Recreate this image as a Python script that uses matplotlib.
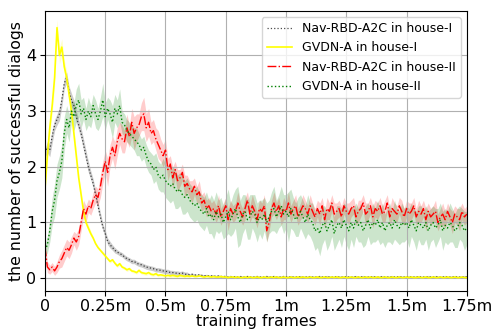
import numpy as np
import matplotlib
matplotlib.use("Agg")
import matplotlib.pyplot as plt

# training frames in millions, one sample every 0.01m
frames = np.linspace(0, 1.75, 176)

# GVDN-A in house-I (yellow)
gvdn_h1 = [1.6, 2.2, 2.7, 3.1, 3.6, 4.5, 4.0, 4.15, 3.8, 3.6,
           3.3, 3.0, 2.6, 2.2, 1.8, 1.5, 1.2, 1.0, 0.9, 0.8,
           0.72, 0.62, 0.55, 0.5, 0.45, 0.4, 0.35, 0.3, 0.33, 0.27,
           0.22, 0.26, 0.2, 0.18, 0.15, 0.17, 0.13, 0.12, 0.1, 0.14,
           0.1, 0.09, 0.08, 0.1, 0.07, 0.06, 0.08, 0.05, 0.06, 0.05,
           0.04, 0.05, 0.04, 0.05, 0.04, 0.03, 0.05, 0.04, 0.03, 0.04,
           0.03, 0.04, 0.03, 0.03, 0.04, 0.03, 0.02, 0.03, 0.03, 0.02,
           0.03, 0.02, 0.02, 0.03, 0.02, 0.02, 0.01, 0.02, 0.02, 0.01,
           0.02, 0.01, 0.01, 0.02, 0.01, 0.02, 0.01, 0.01, 0.02, 0.01,
           0.01, 0.02, 0.01, 0.01, 0.02, 0.01, 0.02, 0.01, 0.01, 0.02,
           0.01, 0.01, 0.02, 0.01, 0.01, 0.02, 0.01, 0.02, 0.01, 0.01,
           0.02, 0.01, 0.01, 0.02, 0.01, 0.01, 0.02, 0.01, 0.01, 0.02,
           0.01, 0.02, 0.01, 0.01, 0.02, 0.01, 0.01, 0.02, 0.01, 0.01,
           0.02, 0.01, 0.01, 0.02, 0.01, 0.02, 0.01, 0.01, 0.02, 0.01,
           0.01, 0.02, 0.01, 0.01, 0.02, 0.01, 0.01, 0.02, 0.01, 0.01,
           0.02, 0.01, 0.02, 0.01, 0.01, 0.02, 0.01, 0.01, 0.02, 0.01,
           0.01, 0.02, 0.01, 0.01, 0.02, 0.01, 0.01, 0.02, 0.01, 0.01,
           0.02, 0.01, 0.01, 0.02, 0.01, 0.01]
gvdn_h1_std = [0.1, 0.15, 0.15, 0.15, 0.15, 0.15, 0.15, 0.15, 0.12, 0.12,
               0.1, 0.1, 0.1, 0.1, 0.08, 0.08, 0.08, 0.06, 0.06, 0.05] + [0.03] * 40 + [0.01] * 116

# Nav-RBD-A2C in house-I (black dotted)
nav_h1 = [2.25, 2.35, 2.3, 2.55, 2.75, 2.85, 2.95, 3.2, 3.5, 3.6,
          3.35, 3.2, 3.1, 2.9, 2.75, 2.6, 2.4, 2.2, 2.0, 1.85,
          1.7, 1.5, 1.3, 1.1, 0.92, 0.8, 0.66, 0.6, 0.55, 0.5,
          0.47, 0.44, 0.42, 0.38, 0.35, 0.33, 0.3, 0.3, 0.27, 0.25,
          0.24, 0.22, 0.2, 0.19, 0.18, 0.17, 0.15, 0.15, 0.14, 0.13,
          0.12, 0.12, 0.1, 0.1, 0.09, 0.09, 0.08, 0.09, 0.07, 0.07,
          0.06, 0.07, 0.06, 0.05, 0.06, 0.05, 0.04, 0.05, 0.04, 0.04,
          0.04, 0.03, 0.04, 0.03, 0.03, 0.03, 0.02, 0.03, 0.02, 0.03,
          0.02, 0.03, 0.02, 0.02, 0.03, 0.02, 0.02, 0.02, 0.03, 0.02,
          0.02, 0.02, 0.03, 0.02, 0.02, 0.03, 0.02, 0.02, 0.02, 0.03,
          0.02, 0.02, 0.03, 0.02, 0.02, 0.02, 0.03, 0.02, 0.02, 0.02,
          0.03, 0.02, 0.02, 0.02, 0.03, 0.02, 0.02, 0.03, 0.02, 0.02,
          0.02, 0.03, 0.02, 0.02, 0.02, 0.03, 0.02, 0.02, 0.02, 0.03,
          0.02, 0.02, 0.03, 0.02, 0.02, 0.02, 0.03, 0.02, 0.02, 0.02,
          0.03, 0.02, 0.02, 0.02, 0.03, 0.02, 0.02, 0.03, 0.02, 0.02,
          0.02, 0.03, 0.02, 0.02, 0.02, 0.03, 0.02, 0.02, 0.02, 0.03,
          0.02, 0.02, 0.03, 0.02, 0.02, 0.02, 0.03, 0.02, 0.02, 0.02,
          0.03, 0.02, 0.02, 0.02, 0.03, 0.02]
nav_h1_std = [0.08, 0.1, 0.12, 0.12, 0.1, 0.1, 0.12, 0.12, 0.1, 0.1,
              0.1, 0.12, 0.1, 0.1, 0.1, 0.1, 0.1, 0.1, 0.1, 0.08,
              0.08, 0.08, 0.08, 0.08, 0.06, 0.06, 0.06, 0.06, 0.05, 0.05] + [0.04] * 30 + [0.02] * 116

# Nav-RBD-A2C in house-II (red dash-dot)
nav_h2 = [0.55, 0.2, 0.15, 0.2, 0.13, 0.2, 0.3, 0.35, 0.45, 0.55,
          0.5, 0.6, 0.72, 0.65, 0.75, 1.0, 1.25, 1.15, 1.3, 1.25,
          1.4, 1.5, 1.45, 1.65, 1.9, 2.1, 1.9, 2.2, 2.35, 2.2,
          2.45, 2.6, 2.5, 2.45, 2.7, 2.55, 2.8, 2.6, 2.7, 2.75,
          2.9, 2.95, 2.7, 2.8, 2.6, 2.65, 2.5, 2.4, 2.3, 2.2,
          2.3, 1.95, 2.05, 1.8, 1.95, 1.75, 1.8, 1.9, 1.65, 1.7,
          1.6, 1.55, 1.65, 1.5, 1.55, 1.35, 1.4, 1.25, 1.3, 1.2,
          1.25, 1.15, 1.3, 1.1, 1.2, 1.3, 1.05, 1.25, 1.15, 1.2,
          1.35, 1.2, 1.1, 1.25, 1.4, 1.15, 1.3, 1.2, 1.05, 1.25,
          1.2, 1.3, 0.85, 1.0, 1.25, 1.35, 1.2, 1.3, 1.1, 1.25,
          1.2, 1.35, 1.15, 1.25, 1.3, 1.1, 1.2, 1.3, 1.25, 1.15,
          1.3, 1.2, 1.1, 1.25, 1.15, 1.3, 1.05, 1.25, 1.2, 1.35,
          1.15, 1.2, 1.25, 1.1, 1.3, 1.2, 1.15, 1.25, 1.3, 1.1,
          1.2, 1.25, 1.35, 1.15, 1.2, 1.3, 1.1, 1.25, 1.2, 1.3,
          1.15, 1.2, 1.35, 1.1, 1.25, 1.2, 1.15, 1.3, 1.2, 1.1,
          1.25, 1.15, 1.2, 1.3, 1.1, 1.2, 1.15, 1.25, 1.05, 1.2,
          1.1, 1.15, 1.2, 1.0, 1.1, 1.15, 1.05, 1.2, 1.1, 1.0,
          1.15, 1.1, 1.05, 1.2, 1.1, 1.15]
nav_h2_std = [0.15, 0.1, 0.08, 0.08, 0.08, 0.1, 0.12, 0.15, 0.15, 0.15,
              0.15, 0.15, 0.12, 0.15, 0.15, 0.15, 0.15, 0.15, 0.12, 0.12,
              0.15, 0.15, 0.15, 0.2, 0.2, 0.2, 0.25, 0.2, 0.2, 0.25,
              0.25, 0.2, 0.25, 0.2, 0.25, 0.2, 0.25, 0.3, 0.25, 0.2,
              0.25, 0.3, 0.25, 0.25, 0.2, 0.2, 0.2, 0.25, 0.2, 0.2,
              0.2, 0.2, 0.15, 0.2, 0.15, 0.2, 0.15, 0.15, 0.2, 0.15,
              0.15, 0.2, 0.15, 0.15, 0.2, 0.15, 0.15, 0.15, 0.15, 0.15,
              0.15, 0.15, 0.2, 0.15, 0.15, 0.15, 0.2, 0.15, 0.15, 0.15,
              0.2, 0.15, 0.15, 0.2, 0.15, 0.15, 0.2, 0.15, 0.15, 0.15,
              0.15, 0.2, 0.2, 0.15, 0.15, 0.2, 0.15, 0.15, 0.15, 0.2,
              0.15, 0.2, 0.15, 0.15, 0.2, 0.15, 0.15, 0.2, 0.15, 0.15,
              0.2, 0.15, 0.15, 0.15, 0.2, 0.15, 0.15, 0.2, 0.15, 0.15,
              0.2, 0.15, 0.15, 0.2, 0.15, 0.15, 0.2, 0.15, 0.15, 0.15,
              0.2, 0.15, 0.15, 0.2, 0.15, 0.15, 0.2, 0.15, 0.15, 0.15,
              0.15, 0.2, 0.15, 0.15, 0.2, 0.15, 0.15, 0.15, 0.2, 0.15,
              0.15, 0.2, 0.15, 0.15, 0.15, 0.2, 0.15, 0.15, 0.2, 0.15,
              0.15, 0.15, 0.2, 0.15, 0.15, 0.2, 0.15, 0.15, 0.15, 0.2,
              0.15, 0.15, 0.2, 0.15, 0.15, 0.15]

# GVDN-A in house-II (green dotted)
gvdn_h2 = [0.5, 0.6, 0.85, 1.2, 1.4, 1.75, 1.9, 2.1, 2.6, 2.85,
           2.7, 3.0, 2.9, 3.1, 3.2, 2.95, 3.05, 2.85, 3.0, 2.9,
           3.1, 2.95, 2.85, 3.0, 3.2, 2.9, 3.05, 2.95, 2.8, 3.05,
           2.95, 3.1, 2.8, 2.75, 2.65, 2.6, 2.55, 2.5, 2.45, 2.4,
           2.3, 2.35, 2.2, 2.1, 2.05, 1.95, 2.0, 1.85, 1.8, 1.85,
           1.75, 1.7, 1.65, 1.7, 1.6, 1.55, 1.6, 1.5, 1.45, 1.5,
           1.4, 1.35, 1.3, 1.35, 1.25, 1.2, 1.15, 1.25, 1.1, 1.15,
           1.05, 1.2, 1.1, 1.15, 1.0, 1.1, 1.2, 1.05, 1.15, 1.25,
           1.1, 1.0, 1.15, 1.2, 1.05, 1.1, 1.2, 1.15, 1.0, 1.1,
           1.05, 1.15, 1.0, 1.1, 1.2, 1.25, 1.1, 1.2, 1.3, 1.15,
           1.2, 1.1, 1.25, 1.15, 1.05, 1.1, 1.2, 1.1, 1.0, 1.15,
           1.05, 1.0, 0.85, 0.9, 0.8, 0.95, 1.0, 0.85, 0.95, 1.05,
           0.8, 0.95, 1.0, 0.9, 1.05, 0.95, 0.85, 1.0, 0.9, 1.05,
           0.95, 1.0, 0.85, 0.95, 1.05, 0.9, 1.0, 0.95, 1.05, 0.9,
           1.0, 0.85, 0.95, 1.0, 0.9, 1.05, 0.95, 0.9, 1.0, 0.95,
           1.0, 0.9, 1.05, 0.95, 0.85, 1.0, 0.95, 0.9, 1.0, 0.85,
           0.95, 1.0, 0.9, 0.95, 1.05, 0.85, 0.95, 0.9, 1.0, 0.95,
           0.85, 0.9, 1.0, 0.95, 0.85, 0.9]
gvdn_h2_std = [0.1, 0.15, 0.2, 0.25, 0.3, 0.3, 0.3, 0.3, 0.3, 0.25,
               0.25, 0.2, 0.25, 0.3, 0.3, 0.25, 0.2, 0.2, 0.25, 0.2,
               0.2, 0.25, 0.2, 0.25, 0.3, 0.25, 0.2, 0.25, 0.3, 0.25,
               0.25, 0.3, 0.2, 0.2, 0.2, 0.2, 0.2, 0.2, 0.25, 0.2,
               0.2, 0.2, 0.2, 0.2, 0.2, 0.25, 0.25, 0.25, 0.25, 0.3,
               0.3, 0.3, 0.3, 0.3, 0.35, 0.3, 0.3, 0.35, 0.3, 0.3,
               0.3, 0.3, 0.3, 0.3, 0.3, 0.3, 0.3, 0.3, 0.3, 0.35,
               0.35, 0.35, 0.3, 0.3, 0.3, 0.35, 0.4, 0.3, 0.35, 0.35,
               0.55, 0.4, 0.35, 0.3, 0.35, 0.4, 0.3, 0.35, 0.35, 0.3,
               0.35, 0.3, 0.35, 0.3, 0.35, 0.4, 0.3, 0.3, 0.35, 0.35,
               0.3, 0.45, 0.35, 0.3, 0.3, 0.35, 0.3, 0.3, 0.3, 0.35,
               0.3, 0.35, 0.35, 0.35, 0.4, 0.35, 0.3, 0.35, 0.35, 0.3,
               0.3, 0.35, 0.3, 0.35, 0.3, 0.35, 0.35, 0.3, 0.35, 0.3,
               0.3, 0.35, 0.3, 0.35, 0.3, 0.3, 0.35, 0.3, 0.35, 0.3,
               0.35, 0.3, 0.3, 0.35, 0.3, 0.35, 0.3, 0.3, 0.35, 0.3,
               0.3, 0.35, 0.3, 0.3, 0.35, 0.3, 0.35, 0.3, 0.3, 0.35,
               0.3, 0.3, 0.35, 0.3, 0.3, 0.35, 0.3, 0.3, 0.35, 0.3,
               0.3, 0.35, 0.3, 0.3, 0.35, 0.3]

xticks = [0, 0.25, 0.5, 0.75, 1.0, 1.25, 1.5, 1.75]
xticklabels = ["0", "0.25m", "0.5m", "0.75m", "1m", "1.25m", "1.5m", "1.75m"]

fig = plt.figure(figsize=(4.94, 3.31), dpi=100)
ax = fig.add_axes([0.091, 0.121, 0.854, 0.846])

series = [
    (nav_h1, nav_h1_std, "k", ":", 0.9, 0.7, "Nav-RBD-A2C in house-I"),
    (gvdn_h1, gvdn_h1_std, "yellow", "-", 1.2, 1.0, "GVDN-A in house-I"),
    (nav_h2, nav_h2_std, "red", "-.", 1.0, 1.0, "Nav-RBD-A2C in house-II"),
    (gvdn_h2, gvdn_h2_std, "green", ":", 1.0, 1.0, "GVDN-A in house-II"),
]
for mean, std, color, ls, lw, a, label in series:
    mean = np.array(mean)
    std = np.array(std)
    ax.fill_between(frames, mean - std, mean + std, color=color, alpha=0.2, linewidth=0)
    ax.plot(frames, mean, color=color, linestyle=ls, linewidth=lw, alpha=a, label=label)

ax.set_xlim(0, 1.75)
ax.set_ylim(-0.23, 4.8)
ax.set_xticks(xticks)
ax.set_xticklabels(xticklabels)
ax.set_yticks([0, 1, 2, 3, 4])
ax.tick_params(labelsize=11.5, pad=2.5)
ax.set_xlabel("training frames", fontsize=11.3, labelpad=0)
ax.set_ylabel("the number of successful dialogs", fontsize=11.3, labelpad=2)
ax.grid(True)
ax.legend(loc="upper right", fontsize=9)

fig.savefig("out.png", dpi=100)
